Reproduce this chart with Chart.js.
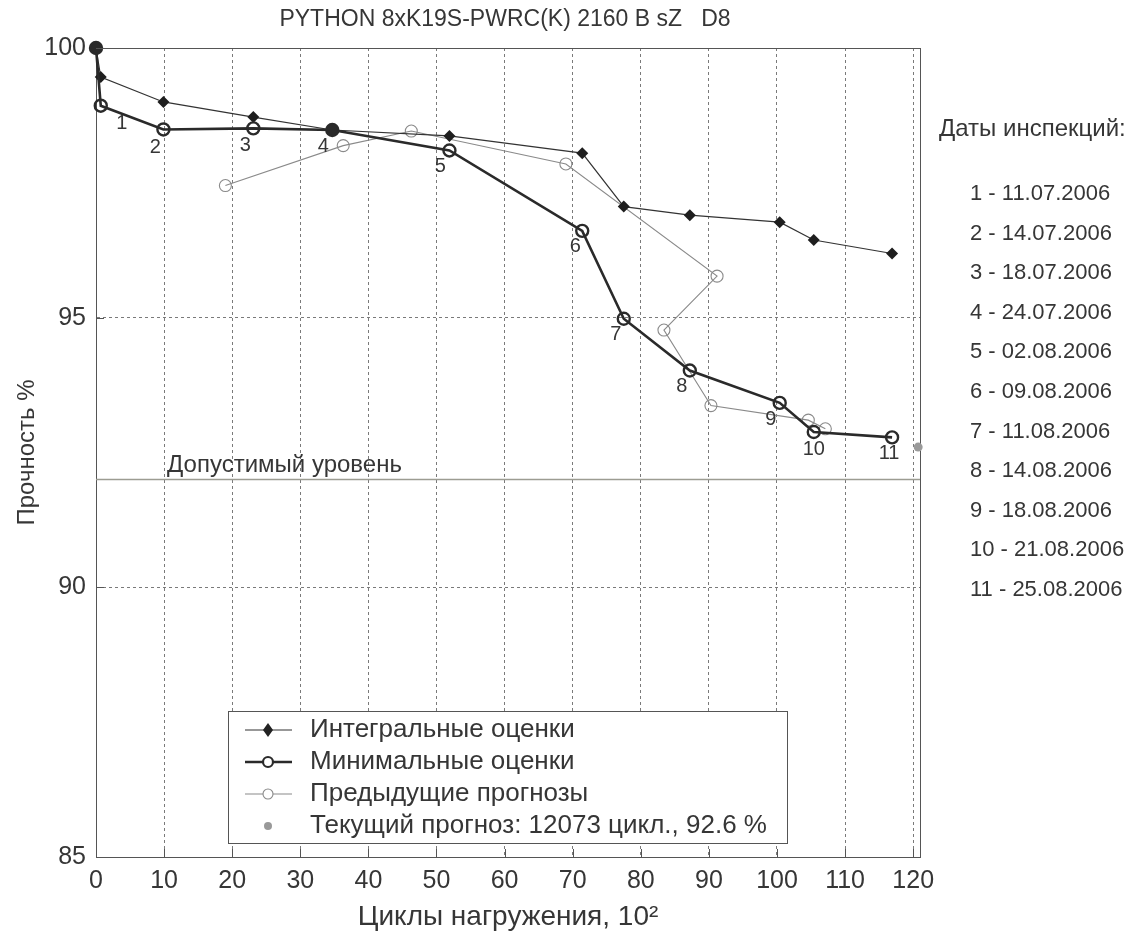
<!DOCTYPE html>
<html>
<head>
<meta charset="utf-8">
<title>Прочность</title>
<script src="https://cdn.jsdelivr.net/npm/chart.js@4.4.1/dist/chart.umd.min.js"></script>
<style>
  html, body { margin: 0; padding: 0; background: #fff; }
  #wrap { width: 1133px; height: 940px; }
</style>
</head>
<body>
<div id="wrap"><canvas id="strengthChart" width="1133" height="940"></canvas></div>
<script>
// inspection points, cycles in hundreds
const cycles = [0, 0.7, 9.9, 23.1, 34.7, 51.9, 71.4, 77.5, 87.2, 100.4, 105.4, 116.9];
const integralStrength = [100, 99.46, 99.0, 98.72, 98.48, 98.37, 98.05, 97.06, 96.90, 96.77, 96.44, 96.19];
const minimalStrength = [100, 98.93, 98.49, 98.51, 98.48, 98.10, 96.61, 94.98, 94.02, 93.42, 92.88, 92.78];

// earlier forecasts
const prevCycles = [19.0, 36.3, 46.3, 69.0, 91.2, 83.4, 90.3, 104.6, 107.1];
const prevStrength = [97.45, 98.19, 98.46, 97.85, 95.77, 94.77, 93.37, 93.10, 92.94];

// current forecast
const forecastCycles = [120.73];
const forecastStrength = [92.6];

const allowedLevel = 92;

const inspectionNumbers = ['', '1', '2', '3', '4', '5', '6', '7', '8', '9', '10', '11'];
const inspectionDates = ['11.07.2006', '14.07.2006', '18.07.2006', '24.07.2006', '02.08.2006',
  '09.08.2006', '11.08.2006', '14.08.2006', '18.08.2006', '21.08.2006', '25.08.2006'];

const xTicks = [0, 10, 20, 30, 40, 50, 60, 70, 80, 90, 100, 110, 120];
const yTicks = [85, 90, 95, 100];

const legendLabels = ['Интегральные оценки', 'Минимальные оценки', 'Предыдущие прогнозы',
  'Текущий прогноз: 12073 цикл., 92.6 %'];

// where each inspection number sits relative to its point (px)
const numberOffsets = [[0, 0], [21, 18], [-8, 18], [-8, 17], [-9, 17], [-9, 16],
  [-7, 16], [-8, 16], [-8, 16], [-9, 17], [0, 17], [-3, 16]];

const FONT = '"Liberation Sans", Arial, sans-serif';
const TEXT = '#363636';
const X_MAX = 121;

const toPoints = (xs, ys) => xs.map((v, i) => ({ x: v, y: ys[i] }));

function circle(ctx, x, y, r, stroke, width, fill) {
  ctx.beginPath();
  ctx.arc(x, y, r, 0, Math.PI * 2);
  if (fill) { ctx.fillStyle = fill; ctx.fill(); }
  if (stroke) { ctx.strokeStyle = stroke; ctx.lineWidth = width; ctx.stroke(); }
}

function diamond(ctx, x, y, r, color) {
  ctx.beginPath();
  ctx.moveTo(x, y - r - 1);
  ctx.lineTo(x + r - 1, y);
  ctx.lineTo(x, y + r + 1);
  ctx.lineTo(x - r + 1, y);
  ctx.closePath();
  ctx.fillStyle = color;
  ctx.fill();
}

// frame, labels, legend and the text on the right
const decorations = {
  id: 'decorations',
  beforeDatasetsDraw(chart) {
    const { ctx, chartArea: a } = chart;
    // solid frame under the marks
    ctx.save();
    ctx.strokeStyle = '#555';
    ctx.lineWidth = 1;
    ctx.strokeRect(a.left + 0.5, a.top + 0.5, a.right - a.left, a.bottom - a.top);
    ctx.restore();
  },
  afterDraw(chart) {
    const { ctx, chartArea: a, scales } = chart;
    const xs = scales.x, ys = scales.y;
    ctx.save();

    // small inner tick marks
    ctx.strokeStyle = '#555';
    ctx.lineWidth = 1;
    ctx.beginPath();
    xTicks.forEach(v => {
      const px = Math.round(xs.getPixelForValue(v)) + 0.5;
      ctx.moveTo(px, a.bottom); ctx.lineTo(px, a.bottom - 8);
    });
    yTicks.forEach(v => {
      const py = Math.round(ys.getPixelForValue(v)) + 0.5;
      ctx.moveTo(a.left, py); ctx.lineTo(a.left + 8, py);
    });
    ctx.stroke();

    // title
    ctx.fillStyle = TEXT;
    ctx.textAlign = 'center';
    ctx.textBaseline = 'middle';
    ctx.font = '23px ' + FONT;
    ctx.fillText('PYTHON 8xK19S-PWRC(K) 2160 B sZ   D8', 505, 20);

    // allowed level caption
    ctx.textAlign = 'left';
    ctx.font = '24px ' + FONT;
    ctx.fillText('Допустимый уровень', xs.getPixelForValue(10) + 3, ys.getPixelForValue(allowedLevel) - 14);

    // inspection numbers next to the minimal estimates
    ctx.textAlign = 'center';
    ctx.font = '20px ' + FONT;
    cycles.forEach((c, i) => {
      if (!inspectionNumbers[i]) return;
      const [dx, dy] = numberOffsets[i];
      ctx.fillText(inspectionNumbers[i], xs.getPixelForValue(c) + dx, ys.getPixelForValue(minimalStrength[i]) + dy);
    });

    // inspection dates on the right
    ctx.textAlign = 'left';
    ctx.font = '24px ' + FONT;
    ctx.fillText('Даты инспекций:', 939, 129);
    ctx.font = '22px ' + FONT;
    inspectionDates.forEach((d, i) => {
      ctx.fillText((i + 1) + ' - ' + d, 970, 194 + i * 39.6);
    });

    // legend box
    const bx = 228, by = 711, bw = 559, bh = 132;
    ctx.fillStyle = '#fff';
    ctx.fillRect(bx, by, bw, bh);
    ctx.strokeStyle = '#555';
    ctx.lineWidth = 1;
    ctx.strokeRect(bx + 0.5, by + 0.5, bw, bh);

    const rowY = [730, 762, 794, 826];
    const lx0 = 245, lx1 = 292, mx = 268;
    // integral
    ctx.strokeStyle = '#333'; ctx.lineWidth = 1.2;
    ctx.beginPath(); ctx.moveTo(lx0, rowY[0]); ctx.lineTo(lx1, rowY[0]); ctx.stroke();
    diamond(ctx, mx, rowY[0], 6, '#222');
    // minimal
    ctx.strokeStyle = '#2a2a2a'; ctx.lineWidth = 2.6;
    ctx.beginPath(); ctx.moveTo(lx0, rowY[1]); ctx.lineTo(lx1, rowY[1]); ctx.stroke();
    circle(ctx, mx, rowY[1], 5, '#2a2a2a', 2.2, '#fff');
    // previous
    ctx.strokeStyle = '#8a8a8a'; ctx.lineWidth = 1.1;
    ctx.beginPath(); ctx.moveTo(lx0, rowY[2]); ctx.lineTo(lx1, rowY[2]); ctx.stroke();
    circle(ctx, mx, rowY[2], 5, '#8a8a8a', 1.1, '#fff');
    // current
    circle(ctx, mx, rowY[3], 4, null, 0, '#999');

    ctx.fillStyle = TEXT;
    ctx.font = '26px ' + FONT;
    ctx.textBaseline = 'middle';
    legendLabels.forEach((t, i) => ctx.fillText(t, 310, rowY[i]));

    ctx.restore();
  }
};

const tickFont = { family: FONT, size: 25 };

new Chart(document.getElementById('strengthChart'), {
  type: 'scatter',
  data: {
    datasets: [
      {
        label: 'Минимальные оценки',
        data: toPoints(cycles, minimalStrength),
        showLine: true,
        borderColor: '#2a2a2a',
        borderWidth: 2.6,
        pointStyle: 'circle',
        pointRadius: 6,
        pointBorderWidth: 2.4,
        pointBorderColor: '#2a2a2a',
        // where both estimates meet the marker looks solid
        pointBackgroundColor: ctx => integralStrength[ctx.dataIndex] === minimalStrength[ctx.dataIndex]
          ? '#2a2a2a' : 'rgba(255,255,255,0)',
        clip: false
      },
      {
        label: 'Интегральные оценки',
        data: toPoints(cycles, integralStrength),
        showLine: true,
        borderColor: '#333',
        borderWidth: 1.2,
        pointStyle: 'rectRot',
        pointRadius: 6,
        pointBorderWidth: 0,
        pointBackgroundColor: '#1e1e1e',
        clip: false
      },
      {
        label: 'Предыдущие прогнозы',
        data: toPoints(prevCycles, prevStrength),
        showLine: true,
        borderColor: '#8a8a8a',
        borderWidth: 1.1,
        pointStyle: 'circle',
        pointRadius: 6,
        pointBorderWidth: 1.1,
        pointBorderColor: '#8a8a8a',
        pointBackgroundColor: 'rgba(255,255,255,0)'
      },
      {
        label: 'Текущий прогноз',
        data: toPoints(forecastCycles, forecastStrength),
        pointRadius: 4.5,
        pointBorderWidth: 0,
        pointBackgroundColor: '#9a9a9a',
        clip: false
      },
      {
        label: 'Допустимый уровень',
        data: [{ x: 0, y: allowedLevel }, { x: X_MAX, y: allowedLevel }],
        showLine: true,
        borderColor: '#9c9c92',
        borderWidth: 1.6,
        pointRadius: 0
      }
    ]
  },
  options: {
    responsive: false,
    animation: false,
    devicePixelRatio: 1,
    layout: { padding: { top: 48, right: 213, left: 0, bottom: 0 } },
    plugins: {
      legend: { display: false },
      tooltip: { enabled: false }
    },
    scales: {
      x: {
        type: 'linear',
        min: 0,
        max: X_MAX,
        afterBuildTicks: s => { s.ticks = xTicks.map(v => ({ value: v })); },
        afterFit: s => { s.height = 83; },
        ticks: { padding: 9, color: TEXT, font: tickFont, maxRotation: 0, autoSkip: false },
        grid: { color: '#7a7a7a', lineWidth: 1, drawTicks: false },
        border: { display: true, color: '#555', width: 1, dash: [3, 3] },
        title: {
          display: true,
          text: 'Циклы нагружения, 10²',
          color: TEXT,
          font: { family: FONT, size: 28 },
          padding: { top: 0, bottom: 6 }
        }
      },
      y: {
        type: 'linear',
        min: 85,
        max: 100,
        afterBuildTicks: s => { s.ticks = yTicks.map(v => ({ value: v })); },
        afterFit: s => { s.width = 96; },
        ticks: { padding: 10, color: TEXT, font: tickFont },
        grid: { color: '#7a7a7a', lineWidth: 1, drawTicks: false },
        border: { display: true, color: '#555', width: 1, dash: [3, 3] },
        title: {
          display: true,
          text: 'Прочность %',
          color: TEXT,
          font: { family: FONT, size: 24 },
          padding: { top: 13, bottom: 0 }
        }
      }
    }
  },
  plugins: [decorations]
});
</script>
</body>
</html>
